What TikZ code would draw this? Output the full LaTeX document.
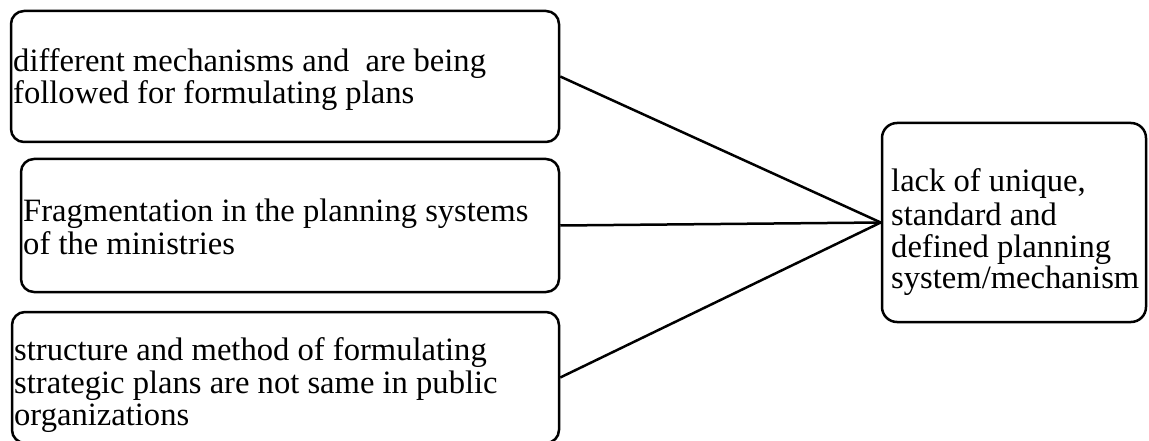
\documentclass[tikz,border=0pt]{standalone}
\usepackage{fontspec}
\setmainfont{Liberation Serif}
\begin{document}
\begin{tikzpicture}[x=1pt,y=-1pt,
  box/.style={draw, line width=2.5pt, rounded corners=13pt, inner sep=0pt},
  txt/.style={anchor=base west, inner sep=0pt, font=\fontsize{32.6}{33}\selectfont},
  link/.style={draw, line width=2.5pt}]
  \useasboundingbox (0,0) rectangle (1149,441);
  % cause boxes on the left
  \node[box, minimum width=548pt, minimum height=131pt] (b1) at (285,76.5) {};
  \node[box, minimum width=538pt, minimum height=133pt] (b2) at (290,225.5) {};
  \node[box, minimum width=547pt, minimum height=131pt] (b3) at (285.5,377.5) {};
  % effect box on the right
  \node[box, rounded corners=15pt, minimum width=264pt, minimum height=199pt] (r) at (1014,222.5) {};
  % texts
  \node[txt] (t1a) at (13,72) {different mechanisms and~ are being};
  \node[txt] (t1b) at (13,104) {followed for formulating plans};
  \node[txt] (t2a) at (23,222) {Fragmentation in the planning systems};
  \node[txt] (t2b) at (23,254) {of the ministries};
  \node[txt] (t3a) at (14,360) {structure and method of formulating};
  \node[txt] (t3b) at (14,393) {strategic plans are not same in public};
  \node[txt] (t3c) at (14,425) {organizations};
  \node[txt] (r1) at (891,192) {lack of unique,};
  \node[txt] (r2) at (891,225) {standard and};
  \node[txt] (r3) at (891,257) {defined planning};
  \node[txt] (r4) at (891,288) {system/mechanism};
  % connectors
  \draw[link] (b1.east) -- (r.west);
  \draw[link] (b2.east) -- (r.west);
  \draw[link] (b3.east) -- (r.west);
\end{tikzpicture}
\end{document}
